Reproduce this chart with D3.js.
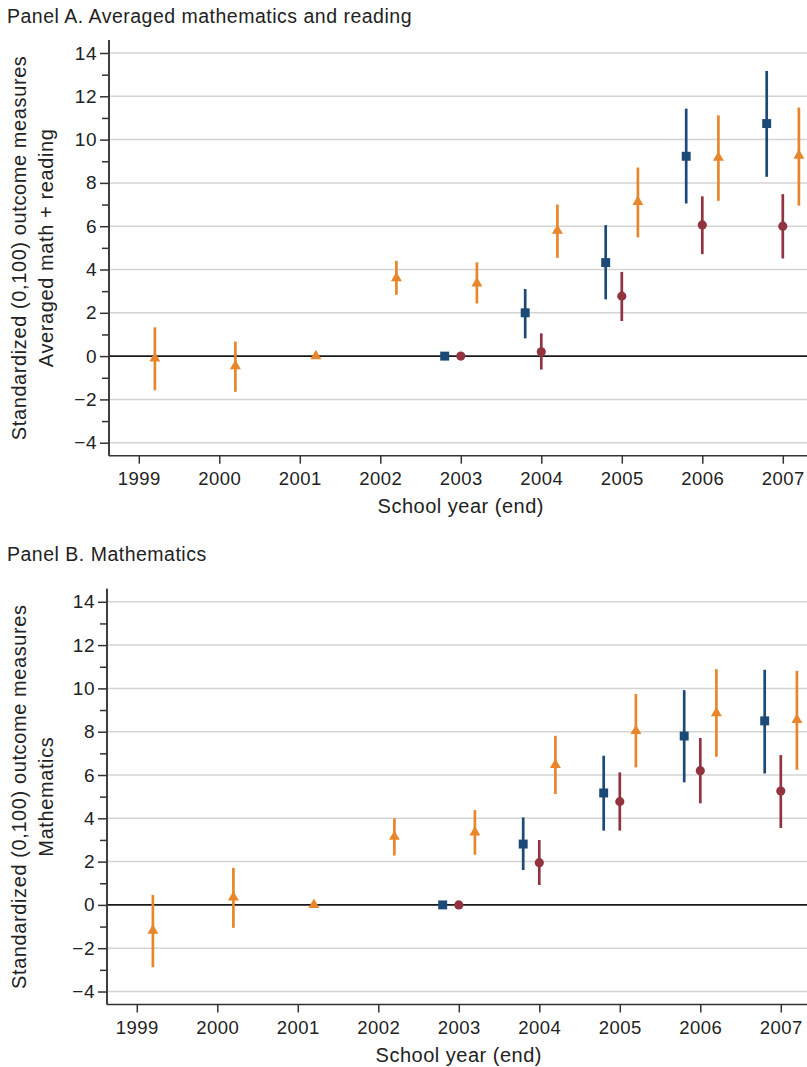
<!DOCTYPE html>
<html>
<head>
<meta charset="utf-8">
<script src="https://cdn.jsdelivr.net/npm/d3@7"></script>
<style>
  body { margin: 0; background: #fff; }
  svg { display: block; font-family: "Liberation Sans", Arial, sans-serif; }
</style>
</head>
<body>
<div id="chart"></div>
<script>
// school years (end)
const years = [1999, 2000, 2001, 2002, 2003, 2004, 2005, 2006, 2007];
const yTicks = [-4, -2, 0, 2, 4, 6, 8, 10, 12, 14];

// Panel A: averaged math + reading
const aSquareEst = [null, null, null, null, 0, 2.0, 4.32, 9.23, 10.74];
const aSquareLo  = [null, null, null, null, null, 0.82, 2.62, 7.05, 8.28];
const aSquareHi  = [null, null, null, null, null, 3.1, 6.05, 11.43, 13.17];
const aCircleEst = [null, null, null, null, 0, 0.2, 2.77, 6.06, 6.0];
const aCircleLo  = [null, null, null, null, null, -0.62, 1.62, 4.71, 4.51];
const aCircleHi  = [null, null, null, null, null, 1.05, 3.89, 7.38, 7.48];
const aTriEst    = [-0.1, -0.46, 0, 3.6, 3.36, 5.8, 7.12, 9.17, 9.26];
const aTriLo     = [-1.58, -1.65, null, 2.83, 2.43, 4.54, 5.48, 7.17, 6.95];
const aTriHi     = [1.33, 0.67, null, 4.4, 4.33, 7.0, 8.71, 11.12, 11.48];

// Panel B: mathematics
const bSquareEst = [null, null, null, null, 0, 2.81, 5.17, 7.8, 8.5];
const bSquareLo  = [null, null, null, null, null, 1.61, 3.43, 5.66, 6.07];
const bSquareHi  = [null, null, null, null, null, 4.04, 6.89, 9.92, 10.86];
const bCircleEst = [null, null, null, null, 0, 1.95, 4.77, 6.2, 5.26];
const bCircleLo  = [null, null, null, null, null, 0.92, 3.43, 4.69, 3.55];
const bCircleHi  = [null, null, null, null, null, 3.0, 6.12, 7.71, 6.92];
const bTriEst    = [-1.19, 0.35, 0, 3.15, 3.35, 6.47, 8.04, 8.86, 8.55];
const bTriLo     = [-2.88, -1.06, null, 2.28, 2.32, 5.12, 6.35, 6.84, 6.24];
const bTriHi     = [0.46, 1.71, null, 4.0, 4.38, 7.81, 9.74, 10.89, 10.81];

const colors = { square: "#1b4a78", circle: "#923440", tri: "#e8862b" };

const W = 807, H = 1067;
const svg = d3.select("#chart").append("svg")
    .attr("width", W)
    .attr("height", H);

function series(est, lo, hi, shape, offset) {
    return { shape, offset, points: years.map((yr, i) => ({ yr, est: est[i], lo: lo[i], hi: hi[i] })).filter(p => p.est !== null) };
}

function drawPanel(cfg) {
    const x = d3.scaleLinear().domain([1998.63, 2007.4]).range([cfg.left, cfg.left + 706]);
    const y = d3.scaleLinear().domain([-4.6, 14.6]).range([cfg.bottom, cfg.top]);
    const g = svg.append("g");

    g.append("text")
        .attr("x", 7).attr("y", cfg.titleY)
        .attr("font-size", 19.5).attr("letter-spacing", 0.5).attr("fill", "#222")
        .text(cfg.title);

    // gridlines
    g.selectAll("line.grid").data(yTicks).join("line")
        .attr("x1", cfg.left).attr("x2", W)
        .attr("y1", d => y(d)).attr("y2", d => y(d))
        .attr("stroke", d => d === 0 ? "#1a1a1a" : "#d4d4d4")
        .attr("stroke-width", d => d === 0 ? 1.6 : 1.5);

    // y axis
    const yAxis = d3.axisLeft(y).tickValues(yTicks).tickSize(9).tickPadding(3)
        .tickFormat(d => d < 0 ? "\u2212" + Math.abs(d) : d);
    const ya = g.append("g").attr("transform", `translate(${cfg.left},0)`).call(yAxis);
    ya.append("g").call(d3.axisLeft(y).tickValues(d3.range(-3, 15, 2)).tickSize(7).tickFormat(""));
    ya.selectAll("path.domain").attr("d", `M0,${cfg.top}V${cfg.bottom}`);
    ya.selectAll("path, line").attr("stroke", "#333").attr("stroke-width", 1.5);
    ya.selectAll("text").attr("font-size", 19).attr("letter-spacing", 0.5).attr("fill", "#222").attr("font-family", null);

    // x axis
    const xAxis = d3.axisBottom(x).tickValues(years).tickSize(8).tickPadding(8).tickFormat(d3.format("d"));
    const xa = g.append("g").attr("transform", `translate(0,${cfg.bottom})`).call(xAxis);
    xa.selectAll("path.domain").attr("d", `M${cfg.left},0H${W}`);
    xa.selectAll("path, line").attr("stroke", "#333").attr("stroke-width", 1.5);
    xa.selectAll("text").attr("font-size", 18.5).attr("letter-spacing", 0.5).attr("fill", "#222").attr("font-family", null);

    g.append("text")
        .attr("x", x(2003)).attr("y", cfg.bottom + 57)
        .attr("text-anchor", "middle").attr("font-size", 20).attr("letter-spacing", 0.5).attr("fill", "#222")
        .text("School year (end)");

    const cy = (cfg.top + cfg.bottom) / 2;
    g.append("text")
        .attr("transform", `translate(26,${cy}) rotate(-90)`)
        .attr("text-anchor", "middle").attr("font-size", 20).attr("letter-spacing", 0.6).attr("fill", "#222")
        .text("Standardized (0,100) outcome measures");
    g.append("text")
        .attr("transform", `translate(53,${cy}) rotate(-90)`)
        .attr("text-anchor", "middle").attr("font-size", 20).attr("letter-spacing", 0.6).attr("fill", "#222")
        .text(cfg.ylabel);

    // error bars and markers
    cfg.series.forEach(s => {
        const col = colors[s.shape];
        const sg = g.append("g");
        sg.selectAll("line.ci").data(s.points.filter(p => p.lo !== null)).join("line")
            .attr("x1", p => x(p.yr + s.offset)).attr("x2", p => x(p.yr + s.offset))
            .attr("y1", p => y(p.lo)).attr("y2", p => y(p.hi))
            .attr("stroke", col).attr("stroke-width", 2.7);
        const sym = s.shape === "square" ? d3.symbolSquare : s.shape === "circle" ? d3.symbolCircle : d3.symbolTriangle;
        const size = s.shape === "square" ? 80 : s.shape === "circle" ? 66 : 52;
        sg.selectAll("path.mk").data(s.points).join("path")
            .attr("transform", p => `translate(${x(p.yr + s.offset)},${y(p.est)})`)
            .attr("d", d3.symbol(sym, size))
            .attr("fill", col);
    });
}

drawPanel({
    title: "Panel A. Averaged mathematics and reading",
    titleY: 23, top: 40, bottom: 455.7, left: 109,
    ylabel: "Averaged math + reading",
    series: [
        series(aSquareEst, aSquareLo, aSquareHi, "square", -0.2),
        series(aCircleEst, aCircleLo, aCircleHi, "circle", 0),
        series(aTriEst, aTriLo, aTriHi, "tri", 0.2)
    ]
});

drawPanel({
    title: "Panel B. Mathematics",
    titleY: 561, top: 588.8, bottom: 1004.5, left: 107,
    ylabel: "Mathematics",
    series: [
        series(bSquareEst, bSquareLo, bSquareHi, "square", -0.2),
        series(bCircleEst, bCircleLo, bCircleHi, "circle", 0),
        series(bTriEst, bTriLo, bTriHi, "tri", 0.2)
    ]
});
</script>
</body>
</html>
